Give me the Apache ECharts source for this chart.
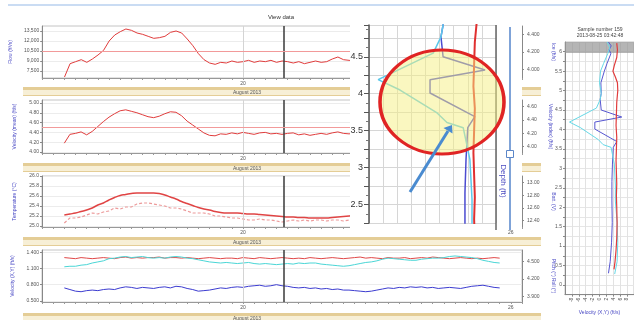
<!DOCTYPE html>
<html>
<head>
<meta charset="utf-8">
<script src="https://cdn.jsdelivr.net/npm/echarts@6.0.0/dist/echarts.min.js"></script>
<style>
  html, body { margin: 0; padding: 0; background: #fff; }
  #main { width: 634px; height: 320px; }
</style>
</head>
<body>
<div id="main"></div>
<script>
// time axis: days of August 2013, one sample every 3 hours
const t0 = 16.0
const dt = 0.125
const dayLabels = [20, 26]
const cursorDay = 20.92

const flow = [6600,8600,8900,9200,8800,9300,9900,10600,12000,12900,
  13400,13800,13600,13200,13000,12700,12400,12500,12700,13300,
  13500,13200,12300,11300,10100,9200,8700,8500,8800,8700,
  9000,8800,8900,9100,8800,9000,8900,9100,8800,9000,
  8900,8700,8900,8600,8800,9000,8800,8900,9300,9600,
  9200,9100,9000,8900,9100,8800,9000,8900,9200,9000,
  8800,9000,8900,9100,8900,8800,9000,9100,8900,9000,
  8800,8900,9100,9000,8900,8800,9000,8900,9000]

const velMean = [4.18,4.36,4.38,4.41,4.35,4.42,4.52,4.62,4.71,4.78,
  4.84,4.86,4.83,4.80,4.76,4.72,4.70,4.73,4.78,4.82,
  4.81,4.74,4.63,4.55,4.47,4.39,4.34,4.33,4.37,4.36,
  4.39,4.37,4.40,4.38,4.36,4.39,4.40,4.37,4.38,4.36,
  4.38,4.39,4.35,4.37,4.34,4.36,4.38,4.36,4.39,4.41,
  4.38,4.37,4.38,4.36,4.39,4.37,4.35,4.38,4.40,4.37,
  4.36,4.38,4.37,4.39,4.36,4.38,4.37,4.35,4.38,4.39,
  4.37,4.36,4.38,4.37,4.39,4.36,4.38,4.37,4.38]

const tempModel = [25.22,25.24,25.26,25.29,25.32,25.36,25.42,25.46,25.52,25.57,
  25.61,25.63,25.65,25.66,25.66,25.66,25.66,25.65,25.62,25.58,
  25.54,25.49,25.45,25.41,25.37,25.34,25.32,25.29,25.27,25.26,
  25.26,25.26,25.25,25.24,25.24,25.23,25.22,25.21,25.20,25.19,
  25.18,25.18,25.17,25.17,25.16,25.16,25.16,25.16,25.17,25.18,
  25.19,25.20,25.21,25.22,25.22,25.24,25.25,25.25,25.27,25.28,
  25.28,25.30,25.31,25.31,25.33,25.34,25.34,25.36,25.37,25.37,
  25.38,25.39,25.39,25.40,25.40,25.41,25.41,25.41,25.42]

const tempLogged = [25.06,25.16,25.16,25.18,25.22,25.26,25.24,25.28,25.30,25.36,
  25.34,25.38,25.38,25.44,25.46,25.46,25.44,25.42,25.40,25.36,
  25.36,25.34,25.30,25.26,25.26,25.26,25.24,25.20,25.20,25.18,
  25.16,25.16,25.14,25.12,25.12,25.14,25.12,25.12,25.10,25.08,
  25.10,25.12,25.10,25.12,25.10,25.12,25.12,25.10,25.12,25.12,
  25.10,25.12,25.14,25.12,25.14,25.16,25.14,25.16,25.18,25.16,
  25.18,25.20,25.18,25.20,25.22,25.20,25.22,25.24,25.22,25.24,
  25.24,25.26,25.24,25.26,25.26,25.28,25.26,25.28,25.28]

const velX = [1.30,1.29,1.28,1.30,1.29,1.28,1.29,1.30,1.29,1.28,
  1.30,1.31,1.29,1.30,1.29,1.30,1.30,1.31,1.29,1.30,
  1.30,1.29,1.30,1.29,1.28,1.29,1.30,1.29,1.28,1.29,
  1.29,1.28,1.30,1.29,1.28,1.30,1.29,1.28,1.29,1.30,
  1.29,1.28,1.29,1.28,1.30,1.29,1.28,1.29,1.30,1.29,
  1.28,1.29,1.30,1.31,1.29,1.30,1.29,1.28,1.30,1.29,
  1.29,1.30,1.28,1.29,1.30,1.29,1.31,1.30,1.29,1.28,
  1.29,1.30,1.29,1.28,1.29,1.28,1.29,1.30,1.29]

const velY = [1.13,1.14,1.14,1.16,1.17,1.20,1.22,1.24,1.28,1.29,
  1.31,1.32,1.30,1.31,1.32,1.30,1.29,1.30,1.29,1.31,
  1.32,1.31,1.29,1.28,1.26,1.24,1.22,1.21,1.20,1.21,
  1.20,1.19,1.20,1.21,1.19,1.18,1.19,1.18,1.17,1.18,
  1.19,1.18,1.20,1.19,1.20,1.20,1.18,1.17,1.16,1.15,
  1.14,1.15,1.17,1.19,1.21,1.22,1.24,1.27,1.29,1.28,
  1.27,1.26,1.25,1.25,1.27,1.28,1.29,1.29,1.30,1.32,
  1.33,1.32,1.31,1.30,1.28,1.25,1.23,1.21,1.20]

const velZ = [0.74,0.71,0.68,0.67,0.69,0.70,0.69,0.71,0.72,0.71,
  0.74,0.76,0.75,0.73,0.75,0.74,0.73,0.75,0.76,0.74,
  0.77,0.76,0.73,0.71,0.68,0.69,0.70,0.72,0.74,0.73,
  0.75,0.76,0.75,0.77,0.78,0.79,0.77,0.78,0.80,0.78,
  0.77,0.75,0.74,0.75,0.73,0.74,0.72,0.73,0.71,0.72,
  0.70,0.70,0.69,0.68,0.67,0.68,0.70,0.72,0.74,0.73,
  0.75,0.74,0.76,0.75,0.76,0.74,0.75,0.73,0.74,0.75,
  0.74,0.73,0.75,0.77,0.78,0.79,0.77,0.75,0.74]

// tick labels of the left axes
const flowTicks = [7500, 9000, 10500, 12000, 13500]
const velMeanTicks = [4.0, 4.2, 4.4, 4.6, 4.8, 5.0]
const tempTicks = [25.0, 25.2, 25.4, 25.6, 25.8, 26.0]
const velXYTicks = [0.5, 0.8, 1.1, 1.4]

// velocity profile of the selected sample: [velocity ft/s, depth ft]
const profileRed = [[5.0,6.22],[5.2,6.05],[5.0,5.85],[4.3,5.65],[3.9,5.5],[4.6,5.35],[5.2,5.2],[5.3,5.0],
  [5.0,4.7],[4.9,4.4],[4.8,4.1],[5.0,3.8],[4.9,3.5],[4.8,3.2],[4.9,2.9],[5.0,2.6],[4.9,2.3],[5.0,2.0],
  [5.1,1.6],[5.0,1.2],[4.8,0.9],[4.5,0.6],[4.2,0.4]]
const profileBlue = [[2.6,6.25],[3.4,6.15],[2.8,6.05],[3.3,5.95],[2.2,5.7],[1.4,5.5],[0.4,5.2],[0.5,4.93],
  [0.2,4.77],[0.5,4.5],[6.45,4.32],[-1.35,4.19],[-1.35,4.01],[5.0,3.69],[4.0,3.54],[3.75,3.11],[3.6,2.66],
  [3.6,2.16],[3.7,1.6],[3.5,1.1],[3.1,0.6],[2.6,0.3]]
const profileCyan = [[2.2,6.25],[3.0,6.1],[2.4,5.95],[1.2,5.7],[0.3,5.5],[0.0,5.2],[0.5,4.93],[0.2,4.77],
  [-0.9,4.55],[-8.7,4.19],[-5.6,4.05],[-0.35,3.74],[1.05,3.61],[3.35,3.54],[4.3,3.11],[4.6,2.57],[4.6,2.16],
  [5.1,1.6],[5.3,1.1],[5.1,0.6],[4.4,0.28]]
const surfaceBand = [5.97, 6.25]

const toPairs = arr => arr.map((v, i) => [t0 + i * dt, v])

const chartDom = document.getElementById('main')
const myChart = echarts.init(chartDom)

const FONT = 'Liberation Sans'
const BLUE_NAME = '#4848c4'
const GRID_LINE = '#ececec'

function timeXAxis(gridIndex) {
  return {
    type: 'value', gridIndex, min: 15.5, max: 26.25, interval: 0.25,
    axisLine: { onZero: false, lineStyle: { color: '#999' } },
    axisTick: { length: 2, lineStyle: { color: '#999' } },
    axisLabel: {
      fontSize: 5, margin: 3, color: '#555',
      formatter: v => dayLabels.some(d => Math.abs(d - v) < 1e-6) ? String(Math.round(v)) : ''
    },
    splitLine: { show: false }
  }
}

function leftYAxis(gridIndex, min, max, ticks, name, fmt) {
  return {
    type: 'value', gridIndex, min, max, position: 'left',
    name, nameLocation: 'middle', nameGap: 25, nameRotate: 90,
    nameTextStyle: { fontSize: 5, color: BLUE_NAME },
    axisLine: { show: true, onZero: false, lineStyle: { color: '#888' } },
    axisTick: { show: true, length: 2, customValues: ticks, lineStyle: { color: '#888' } },
    axisLabel: { fontSize: 5, margin: 3, color: '#555', customValues: ticks, formatter: fmt },
    splitLine: { show: true, lineStyle: { color: GRID_LINE } }
  }
}

function rightYAxis(gridIndex, min, max, ticks, name, fmt) {
  return {
    type: 'value', gridIndex, min, max, position: 'right',
    name, nameLocation: 'middle', nameGap: 26, nameRotate: -90,
    nameTextStyle: { fontSize: 5, color: BLUE_NAME },
    axisLine: { show: true, onZero: false, lineStyle: { color: '#888' } },
    axisTick: { show: true, length: 2, customValues: ticks, lineStyle: { color: '#888' } },
    minorTick: { show: true, splitNumber: 4, length: 1 },
    axisLabel: { fontSize: 5, margin: 5, color: '#555', customValues: ticks, formatter: fmt },
    splitLine: { show: false }
  }
}

function cursorLines(extra) {
  return {
    silent: true, symbol: 'none', label: { show: false },
    data: [
      { xAxis: 20, lineStyle: { color: '#d4d4d4', width: 1, type: 'solid' } },
      { xAxis: cursorDay, lineStyle: { color: '#3a3a3a', width: 1.5, type: 'solid' } }
    ].concat(extra || [])
  }
}

function timeLine(name, data, xi, yi, color, extra) {
  return Object.assign({
    name, type: 'line', xAxisIndex: xi, yAxisIndex: yi,
    data: toPairs(data), showSymbol: false, smooth: false,
    lineStyle: { color, width: 1 }, itemStyle: { color }
  }, extra || {})
}

// tan "August 2013" bars under each time panel
function band(y) {
  return [
    { type: 'rect', shape: { x: 23, y, width: 518, height: 9 }, style: { fill: '#f7efd6' }, z: 1 },
    { type: 'rect', shape: { x: 23, y, width: 518, height: 3 }, style: { fill: '#e4cd96' }, z: 1 },
    { type: 'rect', shape: { x: 23, y: y + 8, width: 518, height: 1 }, style: { fill: '#e4cd96' }, z: 1 },
    { type: 'text', x: 247, y: y + 5.5, z: 2,
      style: { text: 'August 2013', fill: '#555', fontSize: 5, fontFamily: FONT, align: 'center', verticalAlign: 'middle' } }
  ]
}

const arrowTip = [452, 125]
const graphics = [
  { type: 'rect', shape: { x: 8, y: 4, width: 626, height: 2 }, style: { fill: '#cadcf3' } },
  { type: 'text', x: 281, y: 17,
    style: { text: 'View data', fill: '#333', fontSize: 6, fontFamily: FONT, align: 'center', verticalAlign: 'middle' } },
  { type: 'text', x: 600, y: 30,
    style: { text: 'Sample number 159', fill: '#444', fontSize: 5, fontFamily: FONT, align: 'center', verticalAlign: 'middle' } },
  { type: 'text', x: 600, y: 36,
    style: { text: '2013-08-25 03:42:48', fill: '#444', fontSize: 5, fontFamily: FONT, align: 'center', verticalAlign: 'middle' } },
  ...band(87), ...band(163), ...band(237), ...band(313),
  // magnified inset
  { type: 'rect', shape: { x: 350, y: 25, width: 172, height: 205 }, style: { fill: '#fff' }, z: 20 },
  { type: 'line', shape: { x1: 496, y1: 25, x2: 496, y2: 230 }, style: { stroke: '#666', lineWidth: 1.5 }, z: 25 },
  { type: 'line', shape: { x1: 510, y1: 27, x2: 510, y2: 230 }, style: { stroke: '#7fa3d8', lineWidth: 2 }, z: 25 },
  { type: 'rect', shape: { x: 506.5, y: 150.5, width: 7, height: 7 }, style: { fill: '#fff', stroke: '#5b86c8', lineWidth: 1 }, z: 26 },
  { type: 'text', x: 503, y: 181, rotation: -Math.PI / 2, z: 26,
    style: { text: 'Depth (ft)', fill: '#4a4ac0', fontSize: 8, fontFamily: FONT, align: 'center', verticalAlign: 'middle' } },
  { type: 'circle', x: 442, y: 102, scaleX: 62 / 52, shape: { cx: 0, cy: 0, r: 52 }, z: 30,
    style: { fill: 'rgba(246,240,130,0.5)', stroke: '#e02424', lineWidth: 3, strokeNoScale: true } },
  { type: 'line', shape: { x1: 410, y1: 192, x2: 448, y2: 131 }, style: { stroke: '#4a8bd0', lineWidth: 3 }, z: 31 },
  { type: 'polygon', shape: { points: [arrowTip, [452.5, 133.5], [443.5, 128]] }, style: { fill: '#4a8bd0' }, z: 31 }
]

const option = {
  animation: false,
  backgroundColor: '#fff',
  textStyle: { fontFamily: FONT },
  grid: [
    { left: 42, top: 26, width: 480, height: 52, show: true, borderColor: '#c4c4c4' },
    { left: 42, top: 100, width: 480, height: 53, show: true, borderColor: '#c4c4c4' },
    { left: 42, top: 176, width: 480, height: 51, show: true, borderColor: '#c4c4c4' },
    { left: 42, top: 250, width: 480, height: 52, show: true, borderColor: '#c4c4c4' },
    { left: 565, top: 42, width: 70, height: 261, show: true, borderColor: '#c4c4c4' },
    { left: 369, top: 25, width: 127, height: 198 }
  ],
  xAxis: [
    timeXAxis(0), timeXAxis(1), timeXAxis(2), timeXAxis(3),
    {
      type: 'value', gridIndex: 4, min: -10, max: 10, interval: 2,
      name: 'Velocity (X,Y) (ft/s)', nameLocation: 'middle', nameGap: 14,
      nameTextStyle: { fontSize: 5, color: BLUE_NAME },
      axisLine: { onZero: false, lineStyle: { color: '#888' } },
      axisTick: { length: 2 },
      axisLabel: { fontSize: 5, rotate: 90, margin: 3, color: '#555', showMinLabel: false, showMaxLabel: false },
      splitLine: { show: true, lineStyle: { color: '#e2e2e2' } }
    },
    {
      type: 'value', gridIndex: 5, min: -10, max: 8, interval: 2, z: 21,
      axisLine: { show: false, onZero: false }, axisTick: { show: false }, axisLabel: { show: false },
      splitLine: { show: true, lineStyle: { color: '#d6d6d6' } }
    }
  ],
  yAxis: [
    leftYAxis(0, 6450, 14250, flowTicks, 'Flow (ft³/s)', v => v.toLocaleString('en-US')),
    leftYAxis(1, 3.98, 5.06, velMeanTicks, 'Velocity (mean) (ft/s)', v => v.toFixed(2)),
    leftYAxis(2, 24.98, 26.0, tempTicks, 'Temperature (°C)', v => v.toFixed(1)),
    leftYAxis(3, 0.48, 1.44, velXYTicks, 'Velocity (X,Y) (ft/s)', v => v.toFixed(3)),
    rightYAxis(0, 3.9, 4.5, [4.0, 4.2, 4.4], 'Ice (ft/s)', v => v.toFixed(3)),
    rightYAxis(1, 3.9, 4.7, [4.0, 4.2, 4.4, 4.6], 'Velocity (index) (ft/s)', v => v.toFixed(2)),
    rightYAxis(2, 12.3, 13.1, [12.4, 12.6, 12.8, 13.0], 'Batt. (V)', v => v.toFixed(2)),
    rightYAxis(3, 3.8, 4.7, [3.9, 4.2, 4.5], 'Pitch (°) Roll (°)', v => v.toFixed(3)),
    {
      type: 'value', gridIndex: 4, min: -0.25, max: 6.25, interval: 0.25,
      axisLine: { show: true, onZero: false, lineStyle: { color: '#888' } },
      axisTick: { show: true, length: 2 },
      axisLabel: {
        fontSize: 5, margin: 3, color: '#555', showMinLabel: false, showMaxLabel: false,
        formatter: v => Math.abs(v * 2 - Math.round(v * 2)) < 1e-6 ? String(+v.toFixed(1)) : ''
      },
      splitLine: { show: true, lineStyle: { color: '#e6e6e6' } }
    },
    {
      type: 'value', gridIndex: 5, min: 2.25, max: 4.93, interval: 0.25, z: 21,
      axisLine: { show: true, onZero: false, lineStyle: { color: '#555', width: 1.5 } },
      axisTick: { show: true, length: 5, lineStyle: { color: '#555' } },
      minorTick: { show: true, splitNumber: 2, length: 3, lineStyle: { color: '#777' } },
      axisLabel: {
        fontSize: 9, margin: 6, color: '#333', showMaxLabel: false,
        formatter: v => Math.abs(v * 2 - Math.round(v * 2)) < 1e-6 ? String(+v.toFixed(1)) : ''
      },
      splitLine: { show: true, lineStyle: { color: '#d6d6d6' } }
    }
  ],
  series: [
    timeLine('Flow', flow, 0, 0, '#e03c3c', {
      markLine: cursorLines([{ yAxis: 10400, lineStyle: { color: '#f29a9a', width: 1, type: 'solid' } }])
    }),
    timeLine('Velocity (mean)', velMean, 1, 1, '#e03c3c', {
      markLine: cursorLines([{ yAxis: 4.51, lineStyle: { color: '#f29a9a', width: 1, type: 'solid' } }])
    }),
    timeLine('Temperature (model)', tempModel, 2, 2, '#e04444', {
      smooth: true, lineStyle: { color: '#e04444', width: 1.5 }, markLine: cursorLines()
    }),
    timeLine('Temperature (logged)', tempLogged, 2, 2, '#ec9a9a', {
      lineStyle: { color: '#ec9a9a', width: 1.2, type: [3, 2] }
    }),
    timeLine('Velocity X', velX, 3, 3, '#e04848', { markLine: cursorLines() }),
    timeLine('Velocity Y', velY, 3, 3, '#4ad6d6'),
    timeLine('Velocity Z', velZ, 3, 3, '#3c3cd0'),
    { type: 'line', xAxisIndex: 4, yAxisIndex: 8, data: profileBlue, showSymbol: false,
      lineStyle: { color: '#5656d0', width: 1 },
      markArea: { silent: true, itemStyle: { color: 'rgba(150,150,150,0.7)' },
        data: [[{ yAxis: surfaceBand[0] }, { yAxis: surfaceBand[1] }]] } },
    { type: 'line', xAxisIndex: 4, yAxisIndex: 8, data: profileCyan, showSymbol: false,
      lineStyle: { color: '#66d8e6', width: 1 } },
    { type: 'line', xAxisIndex: 4, yAxisIndex: 8, data: profileRed, showSymbol: false,
      lineStyle: { color: '#e03c3c', width: 1.2 } },
    { type: 'line', xAxisIndex: 5, yAxisIndex: 9, data: profileBlue, showSymbol: false, z: 22,
      lineStyle: { color: '#4b4bd0', width: 1.5 } },
    { type: 'line', xAxisIndex: 5, yAxisIndex: 9, data: profileCyan, showSymbol: false, z: 22,
      lineStyle: { color: '#5cc8ea', width: 1.5 } },
    { type: 'line', xAxisIndex: 5, yAxisIndex: 9, data: profileRed, showSymbol: false, z: 22,
      lineStyle: { color: '#e03030', width: 2 } }
  ],
  graphic: graphics
}

myChart.setOption(option)
</script>
</body>
</html>
